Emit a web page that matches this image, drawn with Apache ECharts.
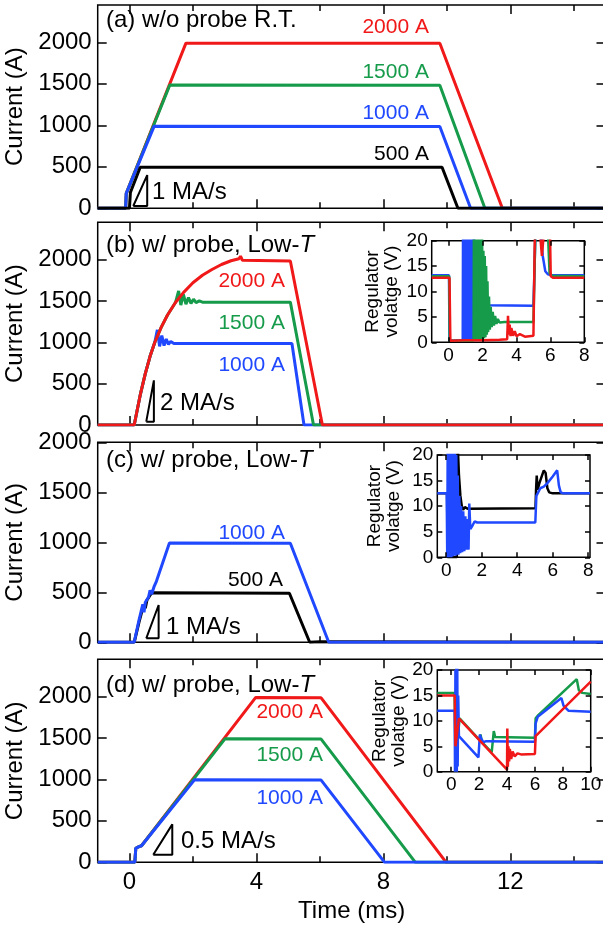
<!DOCTYPE html>
<html><head><meta charset="utf-8">
<script src="https://cdn.jsdelivr.net/npm/echarts@6/dist/echarts.min.js"></script>
<style>html,body{margin:0;padding:0;background:#fff}#c{width:603px;height:926px}</style>
</head><body><div id="c"></div><script>
// ---------- data (time in ms, current in A, voltage in V) ----------
const X_MAJOR = [0, 4, 8, 12];
const X_MINOR = [2, 6, 10, 14];
const Y_TICKS = [0, 500, 1000, 1500, 2000];
const INSET_X_TICKS_8 = [0, 2, 4, 6, 8];
const INSET_X_TICKS_10 = [0, 2, 4, 6, 8, 10];
const INSET_Y_TICKS = [0, 5, 10, 15, 20];

// (a) w/o probe R.T.
const a_red   = [[-1,0],[-0.12,0],[-0.1,180],[1.78,1990],[9.78,1990],[11.75,0],[15,0]];
const a_green = [[-1,0],[-0.12,0],[-0.1,180],[1.27,1485],[9.78,1482],[11.2,0],[15,0]];
const a_blue  = [[-1,0],[-0.12,0],[-0.1,180],[0.78,990],[9.78,985],[10.75,0],[15,0]];
const a_black = [[-1,0],[0,0],[0.03,190],[0.34,495],[9.85,495],[10.35,0],[15,0]];
const a_slope = [[0.12,28],[0.56,28],[0.56,400],[0.12,28]];

// (b) w/ probe, Low-T
const b_blue  = [[-1,0],[0.15,0],[0.25,190],[0.35,380],[0.5,620],[0.65,830],[0.8,1000],[0.88,1150],[0.95,950],[1.02,1080],[1.09,960],[1.16,1040],[1.23,975],[1.3,1010],[1.4,985],[5.12,985],[5.5,0],[15,0]];
const b_green = [[-1,0],[0.15,0],[0.25,190],[0.35,380],[0.5,620],[0.65,830],[0.8,1000],[1.0,1180],[1.2,1330],[1.45,1480],[1.55,1620],[1.62,1450],[1.7,1580],[1.78,1460],[1.86,1540],[1.94,1470],[2.02,1520],[2.1,1480],[2.2,1500],[2.3,1485],[5.07,1485],[5.8,0],[15,0]];
const b_red   = [[-1,0],[0.15,0],[0.25,190],[0.35,380],[0.5,620],[0.65,830],[0.8,1000],[1.0,1180],[1.2,1330],[1.45,1480],[1.7,1600],[2.0,1720],[2.3,1810],[2.6,1880],[2.9,1940],[3.2,1985],[3.45,2010],[3.5,2040],[3.56,1990],[5.07,1983],[6.08,0],[15,0]];
const b_slope = [[0.53,40],[0.77,40],[0.77,540],[0.53,40]];

// (c) w/ probe, Low-T
const c_black = [[-1,0],[0.15,0],[0.3,200],[0.45,380],[0.5,340],[0.55,420],[0.7,495],[5.04,490],[5.68,0],[6.0,6],[15,0]];
const c_blue  = [[-1,0],[0.15,0],[0.3,220],[0.42,380],[0.46,300],[0.5,400],[0.6,450],[0.65,520],[0.7,480],[0.78,560],[0.85,610],[1.26,992],[5.07,990],[6.28,0],[15,0]];
const c_slope = [[0.53,40],[0.92,40],[0.92,373],[0.53,40]];

// (d) w/ probe, Low-T
const d_red   = [[-1,0],[0.17,0],[0.2,170],[0.3,190],[0.38,200],[3.98,1990],[6.04,1985],[9.98,0],[15,0]];
const d_green = [[-1,0],[0.17,0],[0.2,170],[0.3,190],[0.38,200],[3.01,1490],[6.04,1487],[9.01,0],[15,0]];
const d_blue  = [[-1,0],[0.17,0],[0.2,170],[0.3,190],[0.38,200],[2.05,995],[6.04,992],[8.04,0],[15,0]];
const d_slope = [[0.75,90],[1.35,90],[1.35,458],[0.75,90]];

// inset (b): regulator voltage
const ib_blue  = [[-1,13.2],[0.02,13.2],[0.05,0.3],[0.83,0.4],[0.85,25],[0.9,0.5],[0.95,25],[1.0,0.5],[1.05,25],[1.1,0.5],[1.15,25],[1.2,0.5],[1.25,25],[1.3,0.5],[1.35,25],[1.4,0.5],[1.46,25],[1.6,7.5],[2.3,7.3],[5.0,7.2],[5.06,14],[5.12,22],[5.42,22],[5.55,17],[5.7,14],[5.85,13.4],[6.1,13.2],[8,13.2]];
const ib_green = [[-1,13],[0.03,13],[0.06,0.3],[1.47,0.3],[1.49,25],[1.53,0.3],[1.57,25],[1.61,0.3],[1.65,25],[1.69,0.3],[1.73,25],[1.77,0.3],[1.81,25],[1.85,0.4],[1.89,25],[1.93,0.5],[1.97,22],[2.01,0.6],[2.05,18],[2.09,0.8],[2.13,17],[2.17,1],[2.21,15],[2.25,1.5],[2.29,12],[2.33,2],[2.38,9],[2.43,2.5],[2.48,7],[2.54,3],[2.6,6],[2.67,3.3],[2.74,5.2],[2.82,3.6],[2.9,4.6],[3.0,3.9],[3.1,4.2],[3.3,4.0],[5.0,4.0],[5.05,12],[5.12,22],[5.85,22],[5.95,13.6],[6.1,13.1],[8,13]];
const ib_red   = [[-1,12.7],[0.05,12.7],[0.1,0.3],[1.0,0.4],[2.0,0.4],[3.0,0.5],[3.45,0.6],[3.5,5.2],[3.55,1.5],[3.6,3.5],[3.65,1.2],[3.7,2.8],[3.8,1.3],[3.9,2.2],[4.0,1.2],[4.2,1.6],[4.5,1.1],[5.0,1.3],[5.08,20.5],[5.4,21],[5.5,17],[5.6,21],[5.98,21],[6.02,13],[6.15,12.7],[8,12.7]];

// inset (c)
const ic_black = [[-0.5,12.5],[0.05,12.5],[0.08,0],[0.6,0],[0.65,22],[0.72,16],[0.8,12],[0.88,10],[0.95,9.3],[1.05,9.8],[1.2,9.5],[5.03,9.6],[5.06,13],[5.1,16],[5.15,13.2],[5.25,14.5],[5.4,16],[5.5,17],[5.6,16.5],[5.7,13.5],[5.8,12.7],[6.0,12.5],[8.1,12.5]];
const ic_blue  = [[-0.5,12.5],[0.03,12.5],[0.06,0],[0.09,25],[0.13,0],[0.17,25],[0.21,0],[0.25,25],[0.29,0],[0.33,25],[0.37,0.2],[0.41,25],[0.45,0.3],[0.49,22],[0.53,0.3],[0.57,20],[0.61,0.5],[0.65,16],[0.69,0.5],[0.74,12],[0.79,0.8],[0.84,10],[0.9,1],[0.96,9],[1.02,1.2],[1.08,8],[1.14,1.5],[1.2,7.5],[1.26,1.5],[1.3,10.5],[1.36,5.5],[1.45,6],[1.6,7],[1.75,6.8],[5.02,6.8],[5.08,12],[5.3,13.5],[5.5,13.8],[5.7,14.5],[6.0,15.8],[6.25,17],[6.35,14],[6.45,12.7],[6.6,12.5],[8.1,12.5]];

// inset (d)
const id_green = [[-1,15.5],[0.24,15.5],[0.3,2],[0.6,10.5],[2.0,6.3],[2.1,7.3],[2.2,5.8],[2.9,3.8],[3.0,3.5],[3.05,8],[3.15,6.8],[6.0,6.7],[6.05,10.5],[6.2,11],[9.0,18.2],[9.15,16],[9.4,15.5],[10,15.3]];
const id_blue  = [[-1,12],[0.25,12],[0.27,0],[0.3,20],[0.33,0],[0.36,25],[0.4,0],[0.43,22],[0.46,1],[0.5,15],[0.55,7],[0.6,6.8],[1.95,2.8],[2.0,2.6],[2.05,7.3],[2.15,6.5],[2.3,5.8],[2.5,6],[6.0,5.9],[6.05,9.5],[6.2,10.8],[7.9,14.5],[8.0,14.8],[8.05,13],[8.4,12],[10,11.8]];
const id_red   = [[-1,15],[0.25,15],[0.3,5],[0.55,10.5],[4.0,0.4],[4.02,8.5],[4.06,1],[4.1,5],[4.15,2],[4.2,4.5],[4.3,2.5],[4.4,4],[4.55,3],[4.75,3.6],[5.0,3.4],[6.0,3.5],[6.05,7],[10,17.7]];

// ---------- styling ----------
const FONT = "'Liberation Sans', Arial, Helvetica, sans-serif";
const RED = '#f01818', GREEN = '#169b4b', BLUE = '#1f48ff', BLACK = '#000';

const grid = [], xAxis = [], yAxis = [], series = [];

function axis(gi, min, max, pos, ticks, len, labelShow, fs, margin, extra) {
  return Object.assign({
    gridIndex: gi, type: 'value', min: min, max: max, position: pos,
    axisLine: {show: false, onZero: false}, splitLine: {show: false},
    axisTick: {show: true, inside: true, length: len, customValues: ticks, lineStyle: {color: '#000', width: 1.5}},
    axisLabel: {show: labelShow, customValues: ticks, margin: margin, fontSize: fs, color: '#000', fontFamily: FONT,
      formatter: (v) => String(v)},
  }, extra || {});
}

const MAIN_LEFT = 97.7, MAIN_W = 507.8;
const PANELS = [
  {top: 5, h: 203.3, ymax: 2450, lines: [[a_red,RED],[a_green,GREEN],[a_blue,BLUE],[a_black,BLACK]], slope: a_slope},
  {top: 222.3, h: 202.7, ymax: 2450, lines: [[b_blue,BLUE],[b_green,GREEN],[b_red,RED]], slope: b_slope},
  {top: 442.3, h: 200, ymax: 2000, lines: [[c_black,BLACK],[c_blue,BLUE]], slope: c_slope},
  {top: 659.3, h: 203, ymax: 2450, lines: [[d_red,RED],[d_green,GREEN],[d_blue,BLUE]], slope: d_slope},
];

PANELS.forEach((p, i) => {
  grid.push({left: MAIN_LEFT, top: p.top, width: MAIN_W, height: p.h, show: true,
    outerBoundsMode: 'none', containLabel: false,
    borderColor: '#000', borderWidth: 1.5, backgroundColor: 'transparent', z: 0});
  const gi = grid.length - 1;
  const last = i === PANELS.length - 1;
  xAxis.push(axis(gi, -1, 15, 'bottom', X_MAJOR, 9, last, 24, 8, last ? {
    name: 'Time (ms)', nameLocation: 'middle', nameGap: 37,
    nameTextStyle: {fontSize: 24, color: '#000', fontFamily: FONT}} : {}));
  const xi = xAxis.length - 1;
  xAxis.push(axis(gi, -1, 15, 'bottom', X_MINOR, 6, false, 24, 8));
  xAxis.push(axis(gi, -1, 15, 'top', X_MAJOR, 9, false, 24, 8));
  xAxis.push(axis(gi, -1, 15, 'top', X_MINOR, 6, false, 24, 8));
  yAxis.push(axis(gi, 0, p.ymax, 'left', Y_TICKS, 9, true, 24, 6, {
    name: 'Current (A)', nameLocation: 'middle', nameGap: 53,
    nameTextStyle: {fontSize: 24, color: '#000', fontFamily: FONT}}));
  const yi = yAxis.length - 1;
  yAxis.push(axis(gi, 0, p.ymax, 'right', Y_TICKS, 9, false, 24, 6));
  p.lines.forEach(([d, c]) => series.push({type: 'line', xAxisIndex: xi, yAxisIndex: yi, data: d,
    showSymbol: false, lineStyle: {color: c, width: 3}, itemStyle: {color: c}, z: 2, animation: false}));
  series.push({type: 'line', xAxisIndex: xi, yAxisIndex: yi, data: p.slope, showSymbol: false,
    lineStyle: {color: '#000', width: 2}, z: 3, animation: false});
});

const INSETS = [
  {left: 431.7, top: 240.7, w: 152.6, h: 101.6, xmin: -1, xmax: 8, xt: INSET_X_TICKS_8, gap: 30,
   lines: [[ib_blue,BLUE],[ib_green,GREEN],[ib_red,RED]]},
  {left: 437.3, top: 455, w: 152.7, h: 102.3, xmin: -0.5, xmax: 8.1, xt: INSET_X_TICKS_8, gap: 34,
   lines: [[ic_black,BLACK],[ic_blue,BLUE]]},
  {left: 437.3, top: 670, w: 153.4, h: 101.7, xmin: -1, xmax: 10, xt: INSET_X_TICKS_10, gap: 19,
   lines: [[id_green,GREEN],[id_blue,BLUE],[id_red,RED]]},
];

INSETS.forEach((p) => {
  grid.push({left: p.left, top: p.top, width: p.w, height: p.h, show: true,
    outerBoundsMode: 'none', containLabel: false,
    borderColor: '#000', borderWidth: 1.5, backgroundColor: '#fff', z: 10});
  const gi = grid.length - 1;
  xAxis.push(axis(gi, p.xmin, p.xmax, 'bottom', p.xt, 5, true, 19, 4, {z: 12}));
  const xi = xAxis.length - 1;
  xAxis.push(axis(gi, p.xmin, p.xmax, 'top', p.xt, 5, false, 19, 4, {z: 12}));
  yAxis.push(axis(gi, 0, 20, 'left', INSET_Y_TICKS, 5, true, 19, 4, {z: 12,
    name: 'Regulator\nvolatge (V)', nameLocation: 'middle', nameGap: p.gap,
    nameTextStyle: {fontSize: 19, lineHeight: 19, color: '#000', fontFamily: FONT}}));
  const yi = yAxis.length - 1;
  yAxis.push(axis(gi, 0, 20, 'right', INSET_Y_TICKS, 5, false, 19, 4, {z: 12}));
  p.lines.forEach(([d, c]) => series.push({type: 'line', xAxisIndex: xi, yAxisIndex: yi, data: d,
    showSymbol: false, lineStyle: {color: c, width: 2.5}, z: 11, animation: false}));
});

// ---------- annotations ----------
const TEXTS = [
  [106, 20, '(a) w/o probe R.T.', 24, BLACK, 'left'],
  [429, 27, '2000 A', 21, RED, 'right'],
  [429, 72, '1500 A', 21, GREEN, 'right'],
  [429, 113, '1000 A', 21, BLUE, 'right'],
  [429, 154, '500 A', 21, BLACK, 'right'],
  [152, 192, '1 MA/s', 24, BLACK, 'left'],
  [106, 245, '(b) w/ probe, Low-{i|T}', 24, BLACK, 'left'],
  [285, 281, '2000 A', 21, RED, 'right'],
  [285, 323, '1500 A', 21, GREEN, 'right'],
  [285, 365, '1000 A', 21, BLUE, 'right'],
  [160, 403, '2 MA/s', 24, BLACK, 'left'],
  [106, 460, '(c) w/ probe, Low-{i|T}', 24, BLACK, 'left'],
  [285, 533, '1000 A', 21, BLUE, 'right'],
  [283, 580, '500 A', 21, BLACK, 'right'],
  [166, 627, '1 MA/s', 24, BLACK, 'left'],
  [106, 685, '(d) w/ probe, Low-{i|T}', 24, BLACK, 'left'],
  [323, 712, '2000 A', 21, RED, 'right'],
  [323, 755, '1500 A', 21, GREEN, 'right'],
  [323, 798, '1000 A', 21, BLUE, 'right'],
  [181, 841, '0.5 MA/s', 24, BLACK, 'left'],
];
const graphic = TEXTS.map(([x, y, t, s, c, a]) => ({
  type: 'text', x: x, y: y, z: 20,
  style: {text: t, fontSize: s, fontFamily: FONT, fill: c, align: a, verticalAlign: 'middle',
    rich: {i: {fontStyle: 'italic', fontSize: s, fontFamily: FONT, fill: c}}}
}));

const chart = echarts.init(document.getElementById('c'), null, {renderer: 'canvas'});
chart.setOption({
  animation: false,
  backgroundColor: '#fff',
  textStyle: {fontFamily: FONT},
  grid: grid, xAxis: xAxis, yAxis: yAxis, series: series, graphic: graphic
});
</script></body></html>
